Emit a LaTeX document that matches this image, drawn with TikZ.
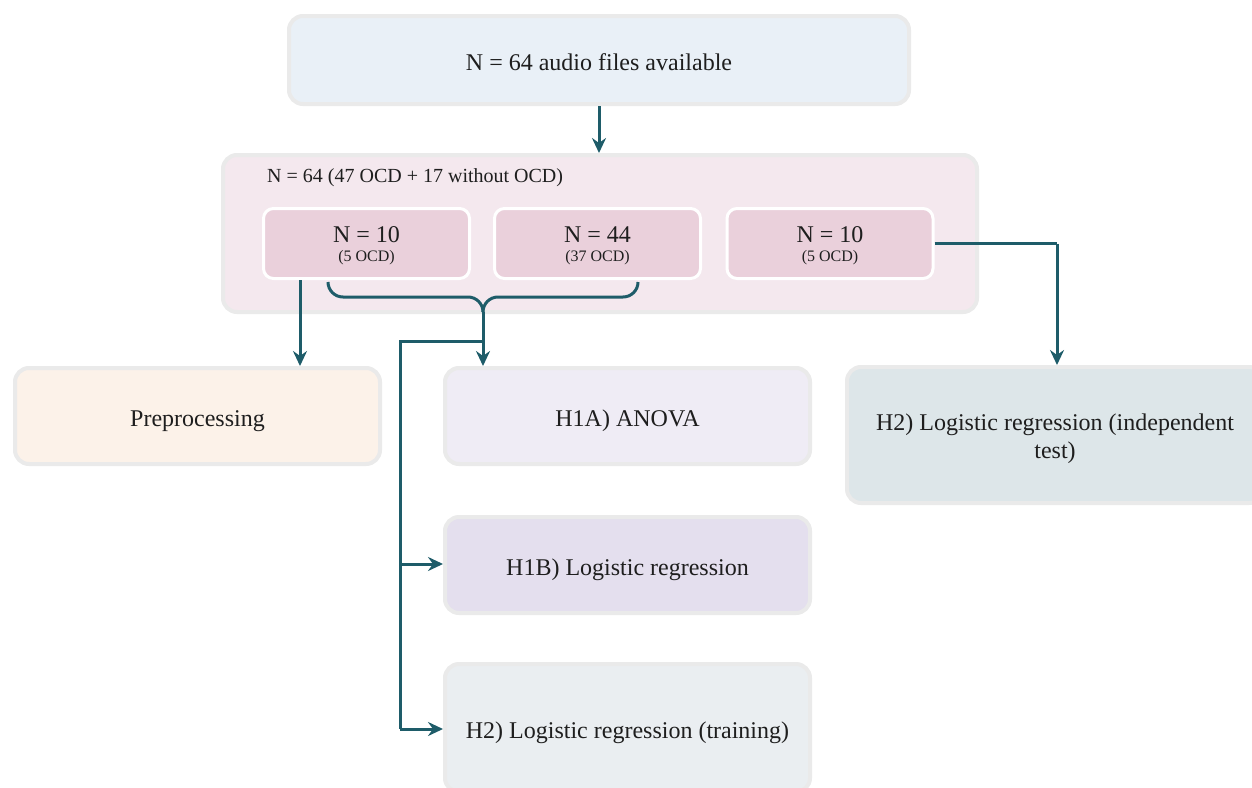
\documentclass[tikz,border=0pt]{standalone}
\usepackage{fontspec}
\setmainfont{Liberation Serif}
\usetikzlibrary{arrows.meta,calc}
\definecolor{bordergray}{HTML}{EAEAEA}
\definecolor{topfill}{HTML}{E9F0F7}
\definecolor{contfill}{HTML}{F4E8EE}
\definecolor{subfill}{HTML}{EAD0DB}
\definecolor{prefill}{HTML}{FCF2E9}
\definecolor{hafill}{HTML}{EFECF5}
\definecolor{hbfill}{HTML}{E4DFEE}
\definecolor{trfill}{HTML}{EAEEF1}
\definecolor{indfill}{HTML}{DDE6E9}
\definecolor{teal}{HTML}{1E5C69}
\definecolor{txt}{HTML}{1E1E1E}
\tikzset{
  box/.style={draw=bordergray, line width=4pt, rounded corners=14pt, text=txt,
    font=\fontsize{24}{28}\selectfont, inner sep=0pt},
  oneline/.style={text height=20pt, text depth=0pt},
  subbox/.style={draw=white, line width=3pt, rounded corners=10pt, fill=subfill,
    minimum width=206pt, minimum height=70pt, text=txt, inner sep=0pt,
    font=\fontsize{24}{19}\selectfont},
  arr/.style={draw=teal, line width=3pt, -{Stealth[length=15pt,width=14pt,inset=5pt]}},
  ln/.style={draw=teal, line width=3pt},
}
\newcommand{\subtext}[2]{\raisebox{-10pt}[0pt][0pt]{\begin{tabular}{@{}c@{}}#1\\{\fontsize{16}{16}\selectfont #2}\end{tabular}}}
\begin{document}
\begin{tikzpicture}[x=1pt,y=-1pt]
\useasboundingbox (0,0) rectangle (1252,787);
\clip (0,0) rectangle (1252,787);
\fill[white] (0,0) rectangle (1252,787);

\node[box, oneline, fill=topfill, minimum width=620pt, minimum height=88pt] (top) at (599,60) {N = 64 audio files available};

\node[box, fill=contfill, minimum width=754pt, minimum height=157pt] (cont) at (600,233.5) {};
\node[anchor=west, text=txt, font=\fontsize{20}{24}\selectfont, inner sep=0pt] (hdr) at (267,178) {N = 64 (47 OCD + 17 without OCD)};

\node[subbox] (b1) at (366.5,243.5) {\subtext{N = 10}{(5 OCD)}};
\node[subbox] (b2) at (597.5,243.5) {\subtext{N = 44}{(37 OCD)}};
\node[subbox] (b3) at (830,243.5) {\subtext{N = 10}{(5 OCD)}};

\node[box, oneline, fill=prefill, minimum width=365pt, minimum height=96pt] (pre) at (197.5,416) {Preprocessing};
\node[box, oneline, fill=hafill, minimum width=365pt, minimum height=96pt] (ha) at (627.5,416) {H1A) ANOVA};
\node[box, oneline, fill=hbfill, minimum width=365pt, minimum height=96pt] (hb) at (627.5,565) {H1B) Logistic regression};
\node[box, oneline, fill=trfill, minimum width=365pt, minimum height=128pt] (tr) at (627.5,728) {H2) Logistic regression (training)};
\node[box, fill=indfill, minimum width=416pt, minimum height=136pt] (ind) at (1055,435) {\raisebox{-10pt}[0pt][0pt]{\begin{tabular}{@{}c@{}}H2) Logistic regression (independent\\test)\end{tabular}}};

% arrows
\draw[arr] (top.south) -- (top.south |- cont.north);

\coordinate (p1) at ([xshift=38pt]b1.south west);
\draw[arr] (p1) -- (p1 |- pre.north);

% brace
\coordinate (bl) at (328,282);
\coordinate (br) at (638,282);
\coordinate (tip) at (483,312);
\draw[ln, line join=round] (bl) to[out=-90,in=180] (343,297) -- (468,297) to[out=0,in=90] (tip);
\draw[ln, line join=round] (br) to[out=-90,in=0] (623,297) -- (498,297) to[out=180,in=90] (tip);
\draw[arr] (tip) -- (tip |- ha.north);

\coordinate (j) at (483,341);
\coordinate (c) at (400,341);
\draw[ln] (j) -- (c) -- (c |- 0,729);
\draw[arr] (c |- 0,564) -- (hb.west |- 0,564);
\draw[arr] (c |- 0,729) -- (tr.west |- 0,729);

\coordinate (q) at (1057,243.5);
\draw[ln] (b3.east) -- (q);
\draw[arr] (q) -- (q |- ind.north);
\end{tikzpicture}
\end{document}
